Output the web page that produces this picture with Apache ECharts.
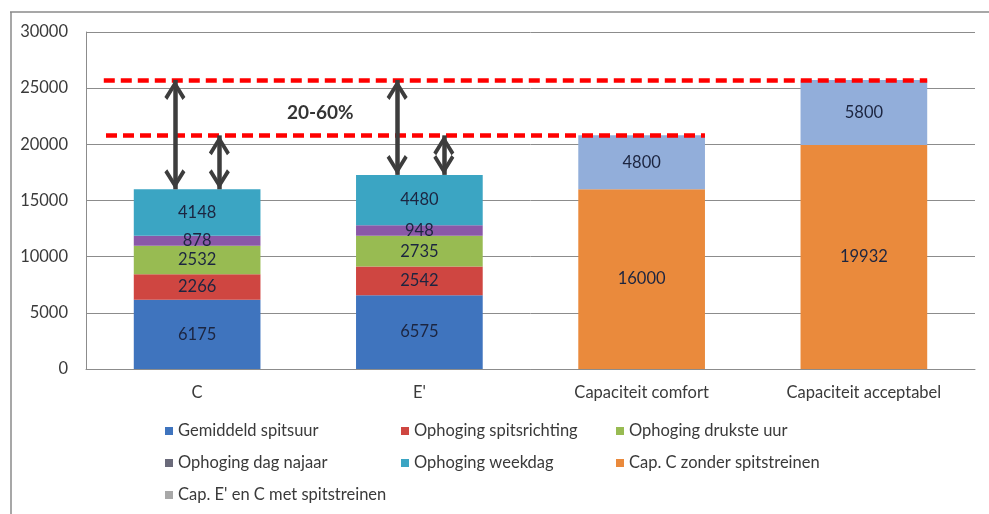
<!DOCTYPE html>
<html>
<head>
<meta charset="utf-8">
<script src="https://cdn.jsdelivr.net/npm/echarts@6/dist/echarts.min.js"></script>
<style>
html,body{margin:0;padding:0;background:#fff;}
#chart{width:989px;height:514px;}
</style>
</head>
<body>
<div id="chart"></div>
<script>
// ---- data ----
var categories = ['C', "E'", 'Capaciteit comfort', 'Capaciteit acceptabel'];
var seriesNames = ['Gemiddeld spitsuur', 'Ophoging spitsrichting', 'Ophoging drukste uur',
  'Ophoging dag najaar', 'Ophoging weekdag', 'Cap. C zonder spitstreinen', "Cap. E' en C met spitstreinen"];
var gemiddeldSpitsuur   = [6175, 6575, '-', '-'];
var ophogingSpitsricht  = [2266, 2542, '-', '-'];
var ophogingDrukste     = [2532, 2735, '-', '-'];
var ophogingDagNajaar   = [878, 948, '-', '-'];
var ophogingWeekdag     = [4148, 4480, '-', '-'];
var capZonderSpits      = ['-', '-', 16000, 19932];
var capMetSpits         = ['-', '-', 4800, 5800];
var yTicks = [0, 5000, 10000, 15000, 20000, 25000, 30000];

// annotation positions (in category units on a helper 0..4 axis)
var dashSpans = [[0.08, 3.785], [0.09, 2.785]];   // top line (acceptabel), bottom line (comfort)
var arrowX = [[0.40, 0.60], [1.40, 1.61]];        // [to top line, to bottom line] for C and E'
var noteText = '20-60%';
var notePos = [1.054, 22790];

// ---- derived ----
var valueSeries = [gemiddeldSpitsuur, ophogingSpitsricht, ophogingDrukste, ophogingDagNajaar,
  ophogingWeekdag, capZonderSpits, capMetSpits];
var colors = ['#3F74BE', '#CF4641', '#98BB52', '#8A58A8', '#3BA5C3', '#EA8A3C', '#92AEDA'];
var legendIconColors = ['#3F74BE', '#CF4641', '#98BB52', '#6A6A7A', '#3BA5C3', '#EA8A3C', '#A8A8A8'];

function total(i) {
  var s = 0;
  valueSeries.forEach(function (arr) { if (arr[i] !== '-') s += arr[i]; });
  return s;
}
var topLine = total(3);     // 25732
var bottomLine = total(2);  // 20800
var barTops = [total(0), total(1)];

var FONT = 'Lato, "Liberation Sans", sans-serif';

var series = valueSeries.map(function (arr, k) {
  return {
    name: seriesNames[k],
    type: 'bar',
    stack: 'total',
    barWidth: '57%',
    data: arr,
    itemStyle: { color: colors[k] },
    label: {
      show: true, position: 'inside', color: '#1c2540',
      fontSize: 16.5, fontFamily: FONT
    },
    z: 2
  };
});

// chevron with its tip at the centre of the symbol box (invisible point balances the box)
var arrowSymbol = 'path://M11,-21 L11.01,-21 L11,-20.99 Z M0,17.5 L11,0 L22,17.5 L19,20.5 L11,7.5 L3,20.5 Z';
var arrowLines = [];
barTops.forEach(function (t, i) {
  arrowLines.push([{ coord: [arrowX[i][0], topLine] }, { coord: [arrowX[i][0], t] }]);
  arrowLines.push([{ coord: [arrowX[i][1], bottomLine] }, { coord: [arrowX[i][1], t] }]);
});

series.push({
  name: 'dashes', type: 'scatter', xAxisIndex: 1, data: [], silent: true,
  markLine: {
    silent: true, symbol: 'none', label: { show: false },
    lineStyle: { color: '#FF0000', width: 4.5, type: [11, 6], cap: 'butt' },
    emphasis: { disabled: true },
    data: [
      [{ coord: [dashSpans[0][0], topLine] }, { coord: [dashSpans[0][1], topLine] }],
      [{ coord: [dashSpans[1][0], bottomLine] }, { coord: [dashSpans[1][1], bottomLine] }]
    ]
  },
  z: 5
});
series.push({
  name: 'arrows', type: 'scatter', xAxisIndex: 1, silent: true,
  data: [notePos], symbolSize: 0,
  label: {
    show: true, position: 'inside', formatter: noteText,
    fontSize: 19, fontWeight: 'bold', color: '#000', fontFamily: FONT
  },
  markLine: {
    silent: true, symbol: [arrowSymbol, arrowSymbol], symbolSize: [21, 40],
    label: { show: false },
    emphasis: { disabled: true },
    lineStyle: { color: '#3d3d3d', width: 4.5, type: 'solid' },
    data: arrowLines
  },
  z: 10
});

function legendData(names) {
  return names.map(function (n) {
    return { name: n, itemStyle: { color: legendIconColors[seriesNames.indexOf(n)] } };
  });
}
var legendCommon = {
  orient: 'vertical', icon: 'rect', itemWidth: 8, itemHeight: 8, itemGap: 14,
  textStyle: { fontSize: 16.5, color: '#3a3a3a', fontFamily: FONT, lineHeight: 18 },
  selectedMode: false, top: 417
};

var option = {
  animation: false,
  backgroundColor: '#fff',
  grid: { left: 86, right: 14, top: 32, bottom: 145 },
  xAxis: [
    {
      type: 'category', data: categories,
      axisLine: { show: true, lineStyle: { color: '#8c8c8c', width: 1 } },
      axisTick: { show: false },
      axisLabel: { fontSize: 16.5, color: '#3a3a3a', fontFamily: FONT, margin: 15 }
    },
    { type: 'value', min: 0, max: 4, show: false }
  ],
  yAxis: {
    type: 'value', min: yTicks[0], max: yTicks[yTicks.length - 1], interval: yTicks[1] - yTicks[0],
    axisLine: { show: true, lineStyle: { color: '#8c8c8c', width: 1 } },
    axisTick: { show: false },
    splitLine: { lineStyle: { color: '#8c8c8c', width: 1 } },
    axisLabel: {
      fontSize: 16.5, color: '#3a3a3a', fontFamily: FONT, margin: 18,
      formatter: function (v) { return String(v); }
    }
  },
  legend: [
    Object.assign({}, legendCommon, { left: 160, data: legendData([seriesNames[0], seriesNames[3], seriesNames[6]]) }),
    Object.assign({}, legendCommon, { left: 396, data: legendData([seriesNames[1], seriesNames[4]]) }),
    Object.assign({}, legendCommon, { left: 611, data: legendData([seriesNames[2], seriesNames[5]]) })
  ],
  graphic: [
    { type: 'line', shape: { x1: 10, y1: 12, x2: 989, y2: 12 }, style: { stroke: '#8a8a8a', lineWidth: 1.5 }, silent: true },
    { type: 'line', shape: { x1: 11, y1: 12, x2: 11, y2: 514 }, style: { stroke: '#8a8a8a', lineWidth: 1.5 }, silent: true }
  ],
  series: series
};

var chart = echarts.init(document.getElementById('chart'));
chart.setOption(option);
</script>
</body>
</html>
